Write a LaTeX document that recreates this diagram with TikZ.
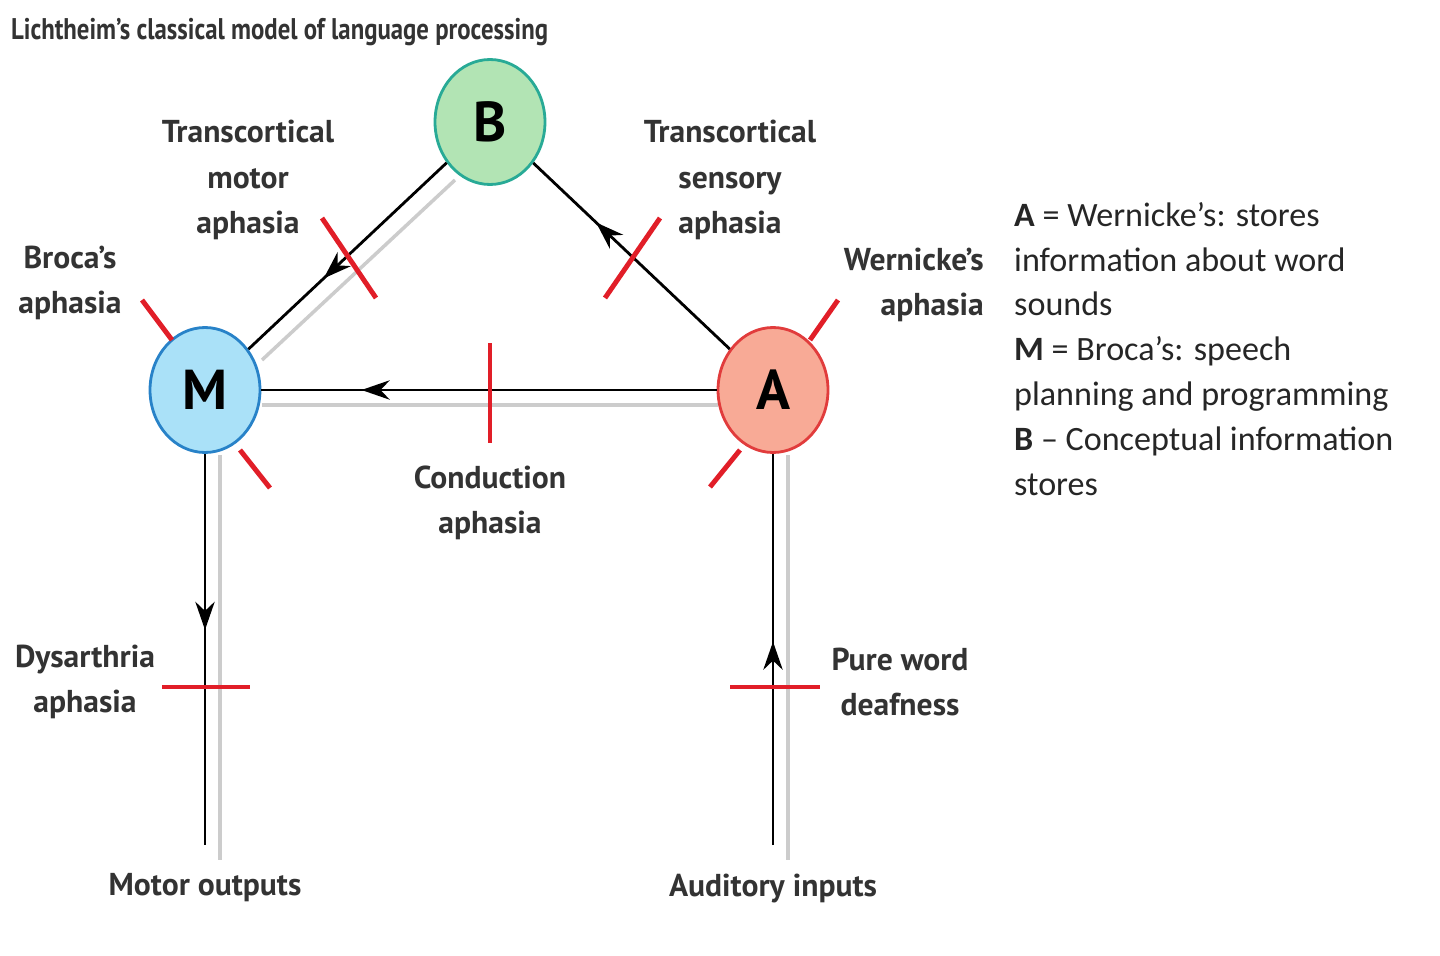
\documentclass[tikz,border=0pt]{standalone}
\usepackage{fontspec}
\setmainfont{PT Sans}
\newfontfamily\legendfont{Carlito}
\usetikzlibrary{decorations.markings,arrows.meta,shapes.geometric}
\definecolor{bfill}{RGB}{178,228,180}\definecolor{bdraw}{RGB}{40,170,150}
\definecolor{mfill}{RGB}{170,225,248}\definecolor{mdraw}{RGB}{40,130,200}
\definecolor{afill}{RGB}{248,170,150}\definecolor{adraw}{RGB}{225,60,60}
\definecolor{rbar}{RGB}{225,30,40}
\begin{document}
\begin{tikzpicture}[x=0.02cm,y=-0.02cm,
  circ/.style={ellipse,draw,line width=1.6pt,minimum width=2.2cm,minimum height=2.5cm,font=\fontsize{32}{32}\bfseries\selectfont,inner sep=0pt},
  lab/.style={font=\fontsize{18}{26}\bfseries\selectfont,align=center,text=black!80},
  conn/.style={line width=1.6pt,postaction={decorate},decoration={markings,mark=at position #1 with {\arrow{Stealth[length=16pt,width=11pt]}}}},
  shadow/.style={line width=2pt,black!20},
  bar/.style={rbar,line width=2.8pt}]
\useasboundingbox (0,0) rectangle (1440,956);
% shadows
\draw[shadow] (455,180) -- (262,360);
\draw[shadow] (220,455) -- (220,860);
\draw[shadow] (718,405) -- (262,405);
\draw[shadow] (788,455) -- (788,860);
\node[circ,fill=bfill,draw=bdraw] (B) at (490,122) {B};
\node[circ,fill=mfill,draw=mdraw] (M) at (205,390) {M};
\node[circ,fill=afill,draw=adraw] (A) at (773,390) {A};
\coordinate (mo) at (205,845); \coordinate (ai) at (773,845);
\draw[conn=0.62] (B) -- (M);
\draw[conn=0.68] (A) -- (B);
\draw[conn=0.78] (A.west) -- (M.east);
\draw[conn=0.45] (M) -- (mo);
\draw[conn=0.52] (ai) -- (A);
% red bars
\draw[bar] (322,218) -- (376,298);
\draw[bar] (660,218) -- (605,298);
\draw[bar] (490,343) -- (490,443);
\draw[bar] (142,300) -- (172,340);
\draw[bar] (240,450) -- (270,488);
\draw[bar] (838,300) -- (810,340);
\draw[bar] (740,450) -- (710,487);
\draw[bar] (162,687) -- (250,687);
\draw[bar] (730,687) -- (820,687);
% labels
\node[anchor=west,font=\fontsize{17}{17}\bfseries\selectfont,xscale=0.83,text=black!80] (t) at (6,32) {Lichtheim’s classical model of language processing};
\node[lab] (l1) at (248,180) {Transcortical\\motor\\aphasia};
\node[lab] (l2) at (730,180) {Transcortical\\sensory\\aphasia};
\node[lab] (l3) at (70,283) {Broca’s\\aphasia};
\node[lab,align=right,anchor=east] (l4) at (990,285) {Wernicke’s\\aphasia};
\node[lab] (l5) at (490,503) {Conduction\\aphasia};
\node[lab] (l6) at (85,682) {Dysarthria\\aphasia};
\node[lab] (l7) at (900,682) {Pure word\\deafness};
\node[lab] (l8) at (205,888) {Motor outputs};
\node[lab] (l9) at (773,888) {Auditory inputs};
\node[anchor=north west,align=left,font=\legendfont\fontsize{19.4}{25.5}\selectfont,text=black!85] (leg) at (1008,196)
 {\textbf{A} = Wernicke’s: stores\\information about word\\sounds\\\textbf{M} = Broca’s: speech\\planning and programming\\\textbf{B} \textendash{} Conceptual information\\stores};
\end{tikzpicture}
\end{document}
